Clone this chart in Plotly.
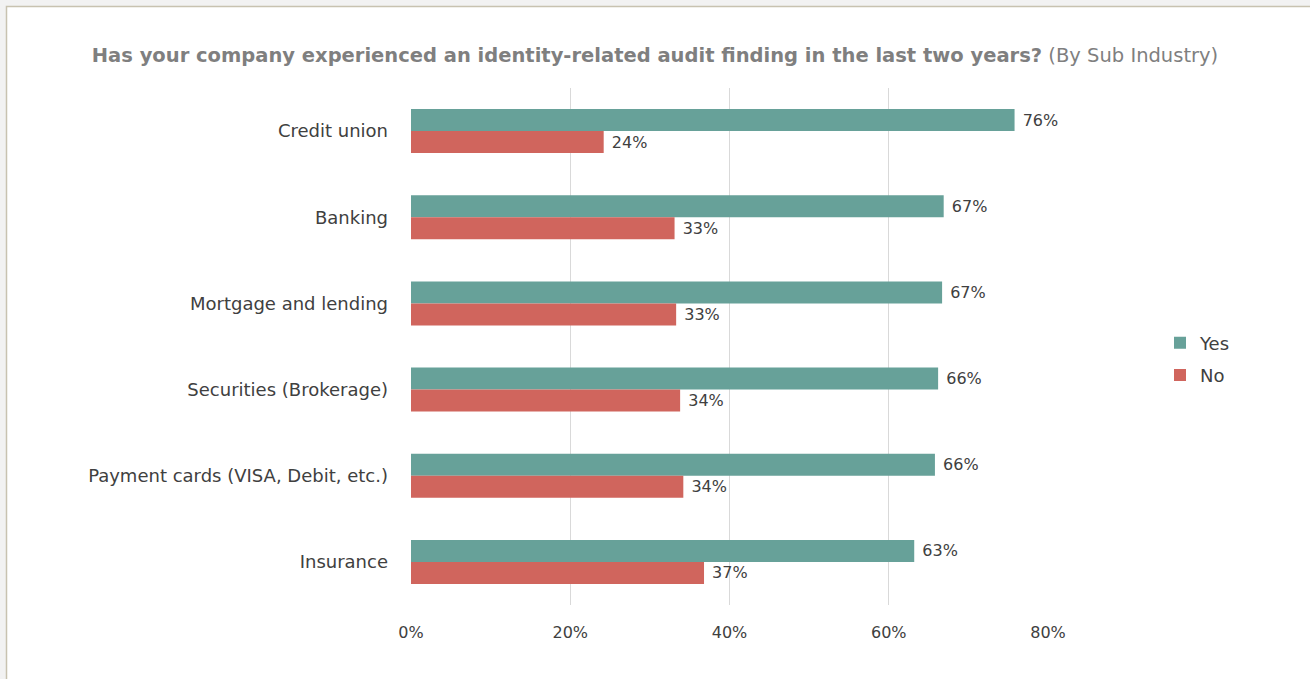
import plotly.graph_objects as go

# Survey results by sub industry
categories = [
    "Credit union",
    "Banking",
    "Mortgage and lending",
    "Securities (Brokerage)",
    "Payment cards (VISA, Debit, etc.)",
    "Insurance",
]
yes_share = [0.758, 0.669, 0.667, 0.662, 0.658, 0.632]
no_share = [0.242, 0.331, 0.333, 0.338, 0.342, 0.368]
x_ticks = [0, 0.2, 0.4, 0.6, 0.8]
x_tick_labels = ["0%", "20%", "40%", "60%", "80%"]

FONT = "Century Gothic, URW Gothic, DejaVu Sans, sans-serif"
W, H = 1310, 679
L, R, T, B = 411, 1048, 88, 605  # plot area in pixels

fig = go.Figure()
fig.add_trace(go.Bar(
    y=categories, x=yes_share, name="Yes", orientation="h",
    marker=dict(color="#67A199", line=dict(width=0)),
    text=yes_share, texttemplate=" %{x:.0%}", textposition="outside",
    textfont=dict(family=FONT, size=16, color="#404040"),
    cliponaxis=False, hoverinfo="skip", legendgroup="yes",
))
fig.add_trace(go.Bar(
    y=categories, x=no_share, name="No", orientation="h",
    marker=dict(color="#D0655D", line=dict(width=0)),
    text=no_share, texttemplate=" %{x:.0%}", textposition="outside",
    textfont=dict(family=FONT, size=16, color="#404040"),
    cliponaxis=False, hoverinfo="skip", legendgroup="no",
))

pw, ph = R - L, B - T


def px_x(p):
    return (p - L) / pw


def px_y(p):
    return (B - p) / ph


fig.update_layout(
    width=W, height=H,
    margin=dict(l=L, r=W - R, t=T, b=H - B, pad=0),
    paper_bgcolor="#F2F2F2",
    plot_bgcolor="rgba(0,0,0,0)",
    barmode="group",
    bargap=0.49,
    bargroupgap=0.0,
    font=dict(family=FONT, color="#404040"),
    title=dict(
        text="<b>Has your company experienced an identity-related audit finding in the last two years?</b> (By Sub Industry)",
        x=0.5, xanchor="center", xref="container",
        y=1 - 55 / H, yanchor="middle", yref="container",
        font=dict(family=FONT, size=19.5, color="#7F7F7F"),
    ),
    xaxis=dict(
        range=[0, 0.8], tickvals=x_ticks, ticktext=x_tick_labels,
        showgrid=True, gridcolor="#D9D9D9", gridwidth=1,
        zeroline=False, showline=False, ticks="",
        tickfont=dict(family=FONT, size=16, color="#404040"),
        ticklabelstandoff=16, fixedrange=True,
    ),
    yaxis=dict(
        autorange="reversed", showgrid=False, zeroline=False,
        showline=False, ticks="",
        tickfont=dict(family=FONT, size=18, color="#404040"),
        ticklabelstandoff=22, fixedrange=True,
    ),
    legend=dict(
        x=px_x(1160), xanchor="left", y=px_y(359), yanchor="middle",
        font=dict(family=FONT, size=18, color="#404040"),
        bgcolor="rgba(0,0,0,0)", itemclick=False, itemdoubleclick=False,
        tracegroupgap=6, traceorder="grouped", itemwidth=30,
    ),
    showlegend=True,
    shapes=[dict(
        type="rect", xref="paper", yref="paper", layer="below",
        x0=px_x(6.5), x1=px_x(W + 20), y0=px_y(H + 20), y1=px_y(6.5),
        fillcolor="#FFFFFF", line=dict(color="#C8C2B0", width=1.5),
    )],
)

fig.write_html("out.html")
